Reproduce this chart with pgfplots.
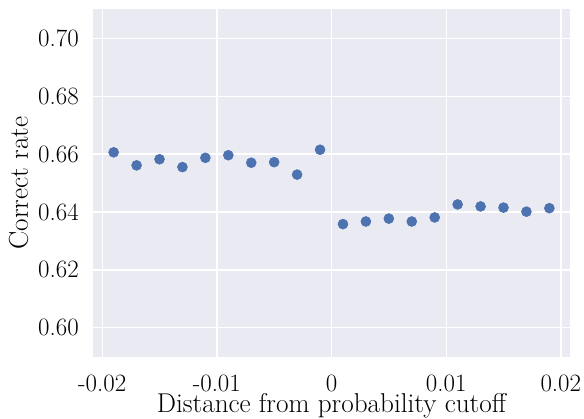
\documentclass[border=0pt]{standalone}
\usepackage{pgfplots}
\pgfplotsset{compat=1.18}
\definecolor{sbblue}{HTML}{4C72B0}
\definecolor{sbbg}{HTML}{EAEAF2}
\begin{document}
\begin{tikzpicture}
    \begin{axis}[
        scale only axis,
        width=357.75pt, height=260.5pt,
        xmin=-0.0208, xmax=0.0208,
        ymin=0.59, ymax=0.71,
        scaled x ticks=false,
        scaled y ticks=false,
        axis background/.style={fill=sbbg},
        axis line style={draw=none},
        major tick length=0pt,
        xtick={-0.02,-0.01,0,0.01,0.02},
        xticklabels={-0.02,-0.01,0,0.01,0.02},
        ytick={0.60,0.62,0.64,0.66,0.68,0.70},
        yticklabels={0.60,0.62,0.64,0.66,0.68,0.70},
        grid=major,
        major grid style={white, line width=1pt},
        tick label style={font=\fontsize{18.7}{22}\selectfont},
        yticklabel style={inner sep=0pt, xshift=-10.5pt},
        xticklabel style={inner sep=0pt, yshift=-13.7pt},
        label style={font=\fontsize{20.4}{24}\selectfont},
        xlabel={Distance from probability cutoff},
        ylabel={Correct rate},
        xlabel style={at={(axis description cs:0.5,0)}, anchor=base, inner sep=0pt, yshift=-42.2pt},
        ylabel style={at={(axis description cs:0,0.5)}, anchor=base, inner sep=0pt, yshift=48.75pt},
        clip=false,
        ]
        \addplot[only marks, mark=*, mark size=3.75pt, color=sbblue] coordinates {
            (-0.019,0.6606)
            (-0.017,0.6561)
            (-0.015,0.6582)
            (-0.013,0.6555)
            (-0.011,0.6587)
            (-0.009,0.6596)
            (-0.007,0.6570)
            (-0.005,0.6572)
            (-0.003,0.6529)
            (-0.001,0.6615)
            (0.001,0.6358)
            (0.003,0.6367)
            (0.005,0.6377)
            (0.007,0.6367)
            (0.009,0.6381)
            (0.011,0.6426)
            (0.013,0.6419)
            (0.015,0.6415)
            (0.017,0.6401)
            (0.019,0.6413)
        };
    \end{axis}
    \pgfresetboundingbox
    \path (current axis.south west) ++(-69.75pt,-46pt) coordinate (bl);
    \path (current axis.north east) ++(10.5pt,7pt) coordinate (tr);
    \path (bl) rectangle (tr);
\end{tikzpicture}
\end{document}
